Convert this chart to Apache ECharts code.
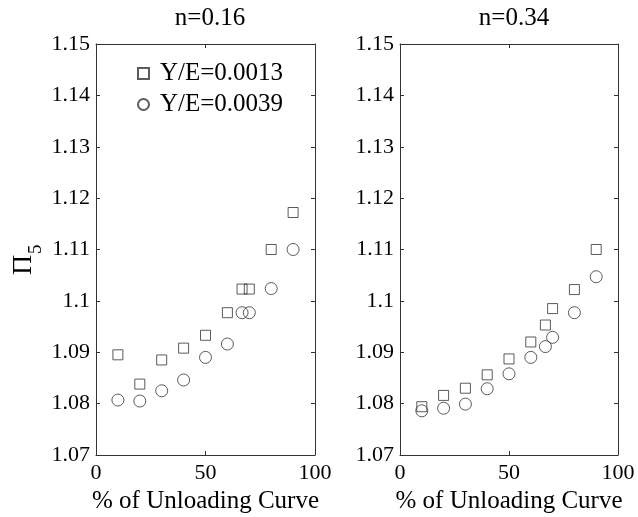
<!DOCTYPE html>
<html>
<head>
<meta charset="utf-8">
<script src="https://cdn.jsdelivr.net/npm/echarts@6/dist/echarts.min.js"></script>
<style>
  html, body { margin: 0; padding: 0; background: #fff; }
  #chart { width: 638px; height: 517px; }
</style>
</head>
<body>
<div id="chart"></div>
<script>
// Percentage of unloading curve at which each ratio was taken
const unloadPct = [10, 20, 30, 40, 50, 60, 66.7, 70, 80, 90];

// n = 0.16
const n016_ye0013 = [1.0895, 1.0838, 1.0885, 1.0908, 1.0933, 1.0977, 1.1023, 1.1023, 1.1100, 1.1172];
const n016_ye0039 = [1.0807, 1.0805, 1.0825, 1.0846, 1.0890, 1.0916, 1.0977, 1.0977, 1.1024, 1.1100];

// n = 0.34
const n034_ye0013 = [1.0794, 1.0816, 1.0830, 1.0856, 1.0887, 1.0920, 1.0953, 1.0985, 1.1022, 1.1100];
const n034_ye0039 = [1.0786, 1.0791, 1.0799, 1.0829, 1.0858, 1.0890, 1.0911, 1.0929, 1.0977, 1.1047];

const panelTitles = ['n=0.16', 'n=0.34'];
const seriesNames = ['Y/E=0.0013', 'Y/E=0.0039'];
const xTicks = [0, 50, 100];
const yTicks = [1.07, 1.08, 1.09, 1.10, 1.11, 1.12, 1.13, 1.14, 1.15];

const FONT = '"Liberation Serif", "Times New Roman", serif';
const INK = '#000';
const LINE = '#333';

const pair = (xs, ys) => xs.map((x, i) => [x, ys[i]]);

const grids = [
  { left: 96, top: 44, width: 219, height: 411, outerBoundsMode: 'none', containLabel: false },
  { left: 400, top: 44, width: 218, height: 411, outerBoundsMode: 'none', containLabel: false }
];

const xAxes = [];
const yAxes = [];
grids.forEach((g, gi) => {
  // bottom axis with labels
  xAxes.push({
    gridIndex: gi, type: 'value', min: xTicks[0], max: xTicks[xTicks.length - 1], interval: 50,
    position: 'bottom',
    axisLine: { show: true, lineStyle: { color: LINE, width: 1 } },
    axisTick: { show: true, inside: true, length: 4, lineStyle: { color: LINE } },
    axisLabel: { color: INK, fontFamily: FONT, fontSize: 22, margin: 7 },
    splitLine: { show: false },
    name: '% of Unloading Curve', nameLocation: 'middle', nameGap: 32,
    nameTextStyle: { color: INK, fontFamily: FONT, fontSize: 25 }
  });
  // top frame edge
  xAxes.push({
    gridIndex: gi, type: 'value', min: 0, max: 100, interval: 50, position: 'top',
    axisLine: { show: true, onZero: false, lineStyle: { color: LINE, width: 1 } },
    axisTick: { show: true, inside: true, length: 4, lineStyle: { color: LINE } },
    axisLabel: { show: false }, splitLine: { show: false }
  });
  yAxes.push({
    gridIndex: gi, type: 'value', min: yTicks[0], max: yTicks[yTicks.length - 1], interval: 0.01,
    position: 'left',
    axisLine: { show: true, onZero: false, lineStyle: { color: LINE, width: 1 } },
    axisTick: { show: true, inside: true, length: 4, lineStyle: { color: LINE } },
    axisLabel: {
      color: INK, fontFamily: FONT, fontSize: 22, margin: 6,
      formatter: v => String(parseFloat(v.toFixed(2)))
    },
    splitLine: { show: false }
  });
  // right frame edge
  yAxes.push({
    gridIndex: gi, type: 'value', min: 1.07, max: 1.15, interval: 0.01, position: 'right',
    axisLine: { show: true, onZero: false, lineStyle: { color: LINE, width: 1 } },
    axisTick: { show: true, inside: true, length: 4, lineStyle: { color: LINE } },
    axisLabel: { show: false }, splitLine: { show: false }
  });
});

const squareStyle = { color: 'rgba(0,0,0,0)', borderColor: '#333', borderWidth: 1 };
const circleStyle = { color: 'rgba(0,0,0,0)', borderColor: '#333', borderWidth: 1 };

const series = [
  { name: seriesNames[0], type: 'scatter', xAxisIndex: 0, yAxisIndex: 0, symbol: 'rect', symbolSize: 10,
    itemStyle: squareStyle, data: pair(unloadPct, n016_ye0013), z: 3 },
  { name: seriesNames[1], type: 'scatter', xAxisIndex: 0, yAxisIndex: 0, symbol: 'circle', symbolSize: 12,
    itemStyle: circleStyle, data: pair(unloadPct, n016_ye0039), z: 3 },
  { name: seriesNames[0], type: 'scatter', xAxisIndex: 2, yAxisIndex: 2, symbol: 'rect', symbolSize: 10,
    itemStyle: squareStyle, data: pair(unloadPct, n034_ye0013), z: 3 },
  { name: seriesNames[1], type: 'scatter', xAxisIndex: 2, yAxisIndex: 2, symbol: 'circle', symbolSize: 12,
    itemStyle: circleStyle, data: pair(unloadPct, n034_ye0039), z: 3 }
];

const chart = echarts.init(document.getElementById('chart'), null, { renderer: 'canvas' });
chart.setOption({
  backgroundColor: '#fff',
  animation: false,
  title: [
    { text: panelTitles[0], left: 205, top: 1, textAlign: 'center',
      textStyle: { color: INK, fontFamily: FONT, fontSize: 25, fontWeight: 'normal' } },
    { text: panelTitles[1], left: 509, top: 1, textAlign: 'center',
      textStyle: { color: INK, fontFamily: FONT, fontSize: 25, fontWeight: 'normal' } }
  ],
  legend: {
    data: [
      { name: seriesNames[0], icon: 'rect' },
      { name: seriesNames[1], icon: 'circle' }
    ],
    orient: 'vertical', left: 132, top: 56, itemWidth: 11, itemHeight: 11, itemGap: 6,
    selectedMode: false,
    textStyle: { color: INK, fontFamily: FONT, fontSize: 25, padding: [0, 0, 0, 6] }
  },
  grid: grids,
  xAxis: xAxes,
  yAxis: yAxes,
  series: series,
  graphic: [
    {
      type: 'group', x: 38, y: 275, rotation: Math.PI / 2,
      children: [
        { type: 'text', x: 0, y: 0, style: { text: 'Π', fontFamily: FONT, fontSize: 28, fill: INK, textVerticalAlign: 'bottom' } },
        { type: 'text', x: 21, y: 8, style: { text: '5', fontFamily: FONT, fontSize: 19, fill: INK, textVerticalAlign: 'bottom' } }
      ]
    }
  ]
});
</script>
</body>
</html>
